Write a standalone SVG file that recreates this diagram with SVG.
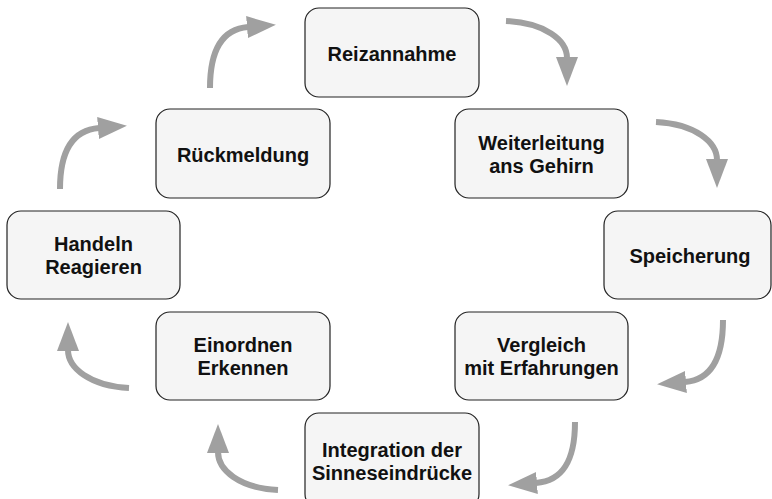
<svg xmlns="http://www.w3.org/2000/svg" width="772" height="499" viewBox="0 0 772 499">
<defs>
<style>
.box{fill:#f5f5f5;stroke:#222;stroke-width:1.2}
.lbl{font-family:"Liberation Sans",Arial,sans-serif;font-weight:bold;font-size:20px;fill:#111;text-anchor:middle}
.arr{fill:none;stroke:#a0a0a0;stroke-width:6;marker-end:url(#head)}
</style>
<marker id="head" markerUnits="userSpaceOnUse" markerWidth="29" markerHeight="22" viewBox="0 0 29 22" refX="1" refY="11" orient="auto">
<path d="M0,0 L29,11 L0,22 Z" fill="#a0a0a0"/>
</marker>
</defs>
<rect width="772" height="499" fill="#fff"/>
<g id="connectors">
<path class="arr" d="M506,21 C545,23 567,40 567,58"/>
<path class="arr" d="M656,122 C695,124 717,142 717,160"/>
<path class="arr" d="M723,320 C723,360 710,380 685,382"/>
<path class="arr" d="M575,422 C575,462 562,481 536,483"/>
<path class="arr" d="M278,490 C239,488 218,470 218,452"/>
<path class="arr" d="M129,388 C90,386 68,368 68,350"/>
<path class="arr" d="M60,189 C60,150 73,130 99,128"/>
<path class="arr" d="M210,88 C210,49 223,29 248,27"/>
</g>
<g id="reizannahme"><rect class="box" x="305" y="8" width="174" height="89" rx="14"/><text class="lbl" x="392" y="61">Reizannahme</text></g>
<g id="weiterleitung"><rect class="box" x="455" y="109" width="173" height="89" rx="14"/><text class="lbl" x="541.5" y="150">Weiterleitung</text><text class="lbl" x="541.5" y="173">ans Gehirn</text></g>
<g id="speicherung"><rect class="box" x="604" y="211" width="167" height="88" rx="14"/><text class="lbl" x="690" y="263">Speicherung</text></g>
<g id="vergleich"><rect class="box" x="455" y="312" width="173" height="88" rx="14"/><text class="lbl" x="541.5" y="352">Vergleich</text><text class="lbl" x="541.5" y="375">mit Erfahrungen</text></g>
<g id="integration"><rect class="box" x="305" y="413" width="174" height="95" rx="14"/><text class="lbl" x="392" y="457">Integration der</text><text class="lbl" x="392" y="480">Sinneseindrücke</text></g>
<g id="einordnen"><rect class="box" x="156" y="312" width="174" height="88" rx="14"/><text class="lbl" x="243" y="352">Einordnen</text><text class="lbl" x="243" y="375">Erkennen</text></g>
<g id="handeln"><rect class="box" x="7" y="211" width="173" height="88" rx="14"/><text class="lbl" x="93.5" y="251">Handeln</text><text class="lbl" x="93.5" y="274">Reagieren</text></g>
<g id="rueckmeldung"><rect class="box" x="156" y="109" width="174" height="89" rx="14"/><text class="lbl" x="243" y="162">Rückmeldung</text></g>
</svg>
